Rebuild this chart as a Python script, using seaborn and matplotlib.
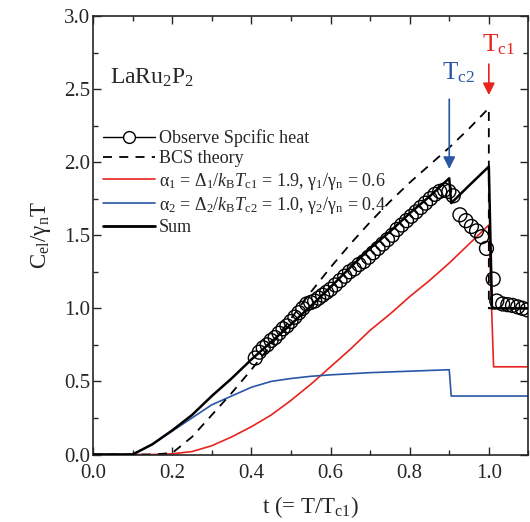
import matplotlib
matplotlib.use('Agg')
import matplotlib.pyplot as plt
from matplotlib.lines import Line2D
from matplotlib.ticker import MultipleLocator
import seaborn as sns

# observed specific heat (open circles)
t_obs = [0.410, 0.420, 0.430, 0.440, 0.450, 0.460, 0.470, 0.480, 0.490, 0.500,
         0.510, 0.520, 0.530, 0.540, 0.550, 0.560, 0.570, 0.580, 0.590, 0.600,
         0.612, 0.624, 0.636, 0.648, 0.660, 0.672, 0.684, 0.696, 0.708, 0.720,
         0.732, 0.744, 0.756, 0.768, 0.780, 0.792, 0.804, 0.816, 0.828, 0.840,
         0.852, 0.864, 0.876, 0.888, 0.899, 0.910, 0.927, 0.942, 0.956, 0.969,
         0.982, 0.994, 1.011, 1.020, 1.035, 1.048, 1.060, 1.073, 1.085, 1.097]
c_obs = [0.66, 0.70, 0.73, 0.75, 0.78, 0.80, 0.83, 0.86, 0.88, 0.91,
         0.94, 0.97, 1.00, 1.03, 1.04, 1.05, 1.07, 1.09, 1.11, 1.13,
         1.16, 1.19, 1.22, 1.25, 1.27, 1.30, 1.32, 1.35, 1.38, 1.41,
         1.44, 1.47, 1.50, 1.54, 1.57, 1.60, 1.63, 1.66, 1.69, 1.72,
         1.75, 1.78, 1.80, 1.81, 1.80, 1.77, 1.64, 1.60, 1.56, 1.53,
         1.49, 1.41, 1.20, 1.05, 1.03, 1.025, 1.02, 1.01, 1.00, 0.99]

# BCS theory (dashed)
t_bcs = [0.0, 0.15, 0.2, 0.25, 0.3, 0.35, 0.4, 0.45, 0.5, 0.55, 0.6, 0.65,
         0.7, 0.75, 0.8, 0.85, 0.9, 0.95, 1.0, 1.0, 1.1]
c_bcs = [0.0, 0.0, 0.01, 0.12, 0.27, 0.42, 0.58, 0.75, 0.93, 1.11, 1.28, 1.44,
         1.59, 1.73, 1.86, 1.98, 2.10, 2.23, 2.37, 1.0, 1.0]

# gap 1 (red)
t_g1 = [0.0, 0.1, 0.15, 0.2, 0.25, 0.3, 0.35, 0.4, 0.45, 0.5, 0.55, 0.6, 0.65,
        0.7, 0.75, 0.8, 0.85, 0.9, 0.95, 1.0, 1.012, 1.1]
c_g1 = [0.0, 0.0, 0.0, 0.005, 0.02, 0.06, 0.12, 0.19, 0.27, 0.37, 0.48, 0.60, 0.72,
        0.85, 0.96, 1.08, 1.19, 1.31, 1.44, 1.57, 0.60, 0.60]

# gap 2 (blue)
t_g2 = [0.0, 0.1, 0.15, 0.2, 0.25, 0.3, 0.35, 0.4, 0.45, 0.5, 0.55, 0.6, 0.7,
        0.8, 0.9, 0.905, 1.1]
c_g2 = [0.0, 0.0, 0.07, 0.16, 0.25, 0.34, 0.40, 0.46, 0.50, 0.52, 0.535, 0.545, 0.56,
        0.57, 0.58, 0.40, 0.40]

# sum of both gaps (thick black)
t_sum = [0.0, 0.1, 0.15, 0.2, 0.25, 0.3, 0.35, 0.4, 0.45, 0.5, 0.55, 0.6, 0.65,
         0.7, 0.75, 0.8, 0.85, 0.9, 0.905, 0.95, 1.0, 1.008, 1.1]
c_sum = [0.0, 0.0, 0.07, 0.165, 0.27, 0.40, 0.52, 0.65, 0.77, 0.89, 1.015, 1.145, 1.28,
         1.41, 1.525, 1.65, 1.765, 1.89, 1.72, 1.84, 1.97, 1.0, 1.0]

RED = '#e8231f'
BLUE = '#2a56a6'

sns.set_style('ticks')
plt.rcParams['font.family'] = ['Liberation Serif', 'DejaVu Serif']
plt.rcParams['mathtext.fontset'] = 'custom'
plt.rcParams['mathtext.rm'] = 'Liberation Serif'
plt.rcParams['mathtext.it'] = 'Liberation Serif:italic'
plt.rcParams['mathtext.bf'] = 'Liberation Serif:bold'

fig = plt.figure(figsize=(5.3, 5.22), dpi=100)
ax = fig.add_axes([0.1755, 0.1293, 0.8215, 0.8400])

sns.lineplot(x=t_g1, y=c_g1, ax=ax, color=RED, lw=1.2, sort=False, estimator=None)
sns.lineplot(x=t_g2, y=c_g2, ax=ax, color=BLUE, lw=1.2, sort=False, estimator=None)
sns.lineplot(x=t_bcs, y=c_bcs, ax=ax, color='black', lw=1.3, ls=(0, (5, 4)),
             sort=False, estimator=None)
sns.lineplot(x=t_sum, y=c_sum, ax=ax, color='black', lw=1.8, sort=False,
             estimator=None, zorder=4)
sns.scatterplot(x=t_obs, y=c_obs, ax=ax, s=100, facecolor='none', edgecolor='black',
                linewidth=1.0, zorder=3)

ax.set_xlim(0, 1.1)
ax.set_ylim(0, 3.0)
ax.xaxis.set_major_locator(MultipleLocator(0.2))
ax.xaxis.set_minor_locator(MultipleLocator(0.1))
ax.yaxis.set_major_locator(MultipleLocator(0.5))
ax.yaxis.set_minor_locator(MultipleLocator(0.25))
ax.tick_params(which='both', direction='in', top=True, right=True, labelsize=15, width=1.0)
ax.tick_params(which='major', length=6, pad=2)
ax.tick_params(which='minor', length=3.5)
ax.tick_params(axis='x', which='major', pad=7)
ax.set_xticks([0.0, 0.2, 0.4, 0.6, 0.8, 1.0])
ax.set_xticklabels(['0.0', '0.2', '0.4', '0.6', '0.8', '1.0'])
for sp in ax.spines.values():
    sp.set_linewidth(1.2)

ax.set_xlabel(r't (= T/T$_{\mathrm{c1}}$)', fontsize=16.5, labelpad=8)
ax.set_ylabel(r'C$_{\mathrm{el}}$/$\mathrm{\gamma}_{\mathrm{n}}$T', fontsize=16.5, labelpad=8)

ax.text(0.043, 2.58, r'LaRu$_2$P$_2$', fontsize=17, va='center')

# Tc arrows
ax.annotate('', xy=(0.9, 1.935), xytext=(0.9, 2.45),
            arrowprops=dict(arrowstyle='-|>', color=BLUE, lw=1.2, mutation_scale=18))
ax.text(0.881, 2.565, r'T$_{\mathrm{c2}}$', color=BLUE, fontsize=18, ha='left', va='baseline')
ax.annotate('', xy=(1.0, 2.44), xytext=(1.0, 2.69),
            arrowprops=dict(arrowstyle='-|>', color=RED, lw=1.2, mutation_scale=18))
ax.text(0.982, 2.757, r'T$_{\mathrm{c1}}$', color=RED, fontsize=18, ha='left', va='baseline')

handles = [
    Line2D([], [], color='black', lw=1.0, marker='o', markersize=8.5,
           markerfacecolor='white', markeredgecolor='black'),
    Line2D([], [], color='black', lw=1.3, ls=(0, (5, 4))),
    Line2D([], [], color=RED, lw=1.2),
    Line2D([], [], color=BLUE, lw=1.2),
    Line2D([], [], color='black', lw=2.0),
]
labels = [
    'Observe Spcific heat',
    'BCS theory',
    r'α$_1$ = Δ$_1$/$k_{\mathrm{B}}T_{\mathrm{c1}}$ = 1.9, γ$_1$/γ$_{\mathrm{n}}$ = 0.6',
    r'α$_2$ = Δ$_2$/$k_{\mathrm{B}}T_{\mathrm{c2}}$ = 1.0, γ$_2$/γ$_{\mathrm{n}}$ = 0.4',
    'Sum',
]
ax.legend(handles, labels, loc='upper left', bbox_to_anchor=(0.023, 0.742),
          frameon=False, fontsize=13, handlelength=2.9, handletextpad=0.2,
          labelspacing=0.18, borderpad=0, borderaxespad=0)

fig.savefig('out.png', dpi=100)
